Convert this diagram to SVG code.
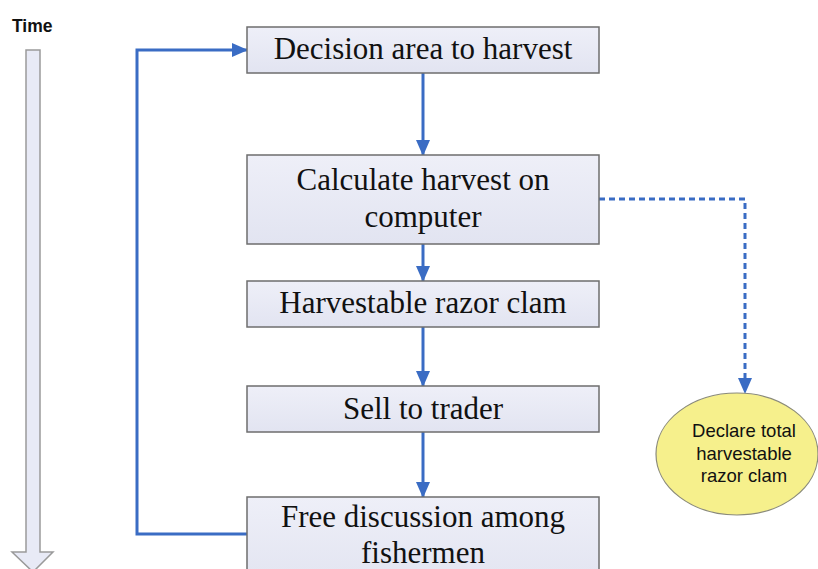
<svg xmlns="http://www.w3.org/2000/svg" width="818" height="569" viewBox="0 0 818 569">
<defs>
<linearGradient id="boxg" x1="0" y1="0" x2="0" y2="1">
<stop offset="0" stop-color="#eeeff8"/>
<stop offset="1" stop-color="#e2e4f1"/>
</linearGradient>
<marker id="ah" viewBox="0 0 16 14" refX="15" refY="7" markerWidth="16" markerHeight="14" markerUnits="userSpaceOnUse" orient="auto">
<path d="M0,0 L16,7 L0,14 Z" fill="#3a6cc4"/>
</marker>
</defs>
<style>
.box{fill:url(#boxg);stroke:#6e6e6e;stroke-width:1.5}
.t{font-family:"Liberation Serif","Times New Roman",serif;font-size:31px;fill:#111;text-anchor:middle}
.s{font-family:"Liberation Sans",Arial,sans-serif;font-size:18.5px;fill:#111;text-anchor:middle}
.c{fill:none;stroke:#3a6cc4;stroke-width:3}
.d{fill:none;stroke:#3a6cc4;stroke-width:3;stroke-dasharray:6 4}
</style>
<rect width="818" height="569" fill="#ffffff"/>
<g id="time">
<text x="12" y="32" font-family="Liberation Sans,Arial,sans-serif" font-weight="bold" font-size="17.5" fill="#111">Time</text>
<path d="M26,50 L40,50 L40,552 L53,552 L33,572 L12,552 L26,552 Z" fill="#e8eaf6" stroke="#9a9a9a" stroke-width="1.5"/>
</g>
<g id="connectors">
<line class="c" x1="423" y1="73" x2="423" y2="155" marker-end="url(#ah)"/>
<line class="c" x1="423" y1="244" x2="423" y2="281" marker-end="url(#ah)"/>
<line class="c" x1="423" y1="327" x2="423" y2="386" marker-end="url(#ah)"/>
<line class="c" x1="423" y1="432" x2="423" y2="497" marker-end="url(#ah)"/>
<polyline class="c" points="247,534 137,534 137,50 247,50" marker-end="url(#ah)"/>
<polyline class="d" points="599,199 745,199 745,393" marker-end="url(#ah)"/>
</g>
<g id="n1">
<rect class="box" x="247" y="27" width="352" height="46"/>
<text class="t" x="423" y="59">Decision area to harvest</text>
</g>
<g id="n2">
<rect class="box" x="247" y="155" width="352" height="89"/>
<text class="t" x="423" y="190">Calculate harvest on</text>
<text class="t" x="423" y="227">computer</text>
</g>
<g id="n3">
<rect class="box" x="247" y="281" width="352" height="46"/>
<text class="t" x="423" y="313">Harvestable razor clam</text>
</g>
<g id="n4">
<rect class="box" x="247" y="386" width="352" height="46"/>
<text class="t" x="423" y="419">Sell to trader</text>
</g>
<g id="n5">
<rect class="box" x="247" y="497" width="352" height="90"/>
<text class="t" x="423" y="527">Free discussion among</text>
<text class="t" x="423" y="563">fishermen</text>
</g>
<g id="n6">
<ellipse cx="737" cy="454" rx="81" ry="61" fill="#f6f08c" stroke="#8a8a7a" stroke-width="1.2"/>
<text class="s" x="744" y="437">Declare total</text>
<text class="s" x="744" y="460">harvestable</text>
<text class="s" x="744" y="482">razor clam</text>
</g>
</svg>
